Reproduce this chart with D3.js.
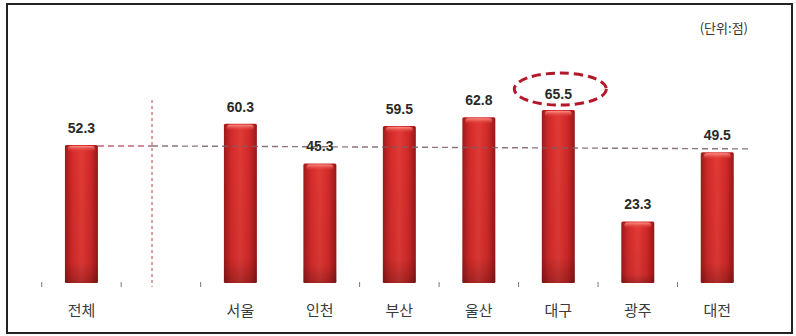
<!DOCTYPE html>
<html>
<head>
<meta charset="utf-8">
<script src="https://cdn.jsdelivr.net/npm/d3@7/dist/d3.min.js"></script>
<style>
  html, body { margin: 0; padding: 0; background: #fff; }
  svg { display: block; }
</style>
</head>
<body>
<svg id="chart" width="796" height="336"></svg>
<script>
// Categories: overall first, then an empty spacer slot, then the seven cities
const categories = ["전체", "", "서울", "인천", "부산", "울산", "대구", "광주", "대전"];
const values     = [52.3, null, 60.3, 45.3, 59.5, 62.8, 65.5, 23.3, 49.5];
const valueLabels = ["52.3", "", "60.3", "45.3", "59.5", "62.8", "65.5", "23.3", "49.5"];
const highlighted = "대구";
const unitLabel = "(단위:점)";
const averageValue = 52.3;

const svg = d3.select("#chart");

const x = d3.scaleBand().domain(d3.range(categories.length)).range([41.7, 757]).paddingInner(0.585).paddingOuter(0.2925);
const y = d3.scaleLinear().domain([0, 100]).range([283, 19]);

// Bar gradient: darker edges, bright red middle
const defs = svg.append("defs");
const g = defs.append("linearGradient").attr("id", "barGrad").attr("x1", "0").attr("x2", "1").attr("y1", "0").attr("y2", "0");
g.append("stop").attr("offset", "0%").attr("stop-color", "#9e1a1a");
g.append("stop").attr("offset", "22%").attr("stop-color", "#d32a2a");
g.append("stop").attr("offset", "50%").attr("stop-color", "#e23a36");
g.append("stop").attr("offset", "78%").attr("stop-color", "#cf2828");
g.append("stop").attr("offset", "100%").attr("stop-color", "#971818");
const gv = defs.append("linearGradient").attr("id", "shade").attr("x1", "0").attr("x2", "0").attr("y1", "0").attr("y2", "1");
gv.append("stop").attr("offset", "0%").attr("stop-color", "#000").attr("stop-opacity", 0);
gv.append("stop").attr("offset", "85%").attr("stop-color", "#000").attr("stop-opacity", 0.05);
gv.append("stop").attr("offset", "100%").attr("stop-color", "#000").attr("stop-opacity", 0.25);
const gt = defs.append("linearGradient").attr("id", "cap").attr("x1", "0").attr("x2", "0").attr("y1", "0").attr("y2", "1");
gt.append("stop").attr("offset", "0%").attr("stop-color", "#ff9a90").attr("stop-opacity", 0.9);
gt.append("stop").attr("offset", "100%").attr("stop-color", "#e33a36").attr("stop-opacity", 0);

// Outer frame
svg.append("rect").attr("x", 7).attr("y", 4).attr("width", 785).attr("height", 329)
  .attr("fill", "none").attr("stroke", "#222").attr("stroke-width", 2);

// Unit label
svg.append("text").attr("x", 748).attr("y", 33).attr("text-anchor", "end")
  .attr("font-family", "'Noto Sans CJK KR', sans-serif").attr("font-size", 13)
  .attr("fill", "#333").text(unitLabel);

const data = categories.map((c, i) => ({ c, i, v: values[i], label: valueLabels[i] }));
const bars = data.filter(d => d.v !== null);

// Vertical dotted separator inside the spacer slot
const sepX = x(1) + x.bandwidth() * 0.23;
svg.append("line").attr("x1", sepX).attr("x2", sepX).attr("y1", 100).attr("y2", 287)
  .attr("stroke", "#c8606a").attr("stroke-width", 1.2).attr("stroke-dasharray", "3,3");

// Bars
const bg = svg.append("g");
bg.selectAll("rect.bar").data(bars).join("rect").attr("class", "bar")
  .attr("x", d => x(d.i)).attr("y", d => y(d.v))
  .attr("width", x.bandwidth()).attr("height", d => y(0) - y(d.v))
  .attr("rx", 1.5).attr("fill", "url(#barGrad)");
bg.selectAll("rect.shade").data(bars).join("rect").attr("class", "shade")
  .attr("x", d => x(d.i)).attr("y", d => y(d.v))
  .attr("width", x.bandwidth()).attr("height", d => y(0) - y(d.v))
  .attr("fill", "url(#shade)");
bg.selectAll("rect.cap").data(bars).join("rect").attr("class", "cap")
  .attr("x", d => x(d.i) + 3).attr("y", d => y(d.v) + 1)
  .attr("width", x.bandwidth() - 6).attr("height", 6).attr("rx", 3)
  .attr("fill", "url(#cap)");

// Average reference line (dashed) across the chart
const avgY = y(averageValue);
svg.append("line").attr("x1", x(0) + x.bandwidth()).attr("x2", sepX)
  .attr("y1", avgY + 1).attr("y2", avgY + 1)
  .attr("stroke", "#d08a95").attr("stroke-width", 2).attr("stroke-dasharray", "6,4");
svg.append("line").attr("x1", sepX).attr("x2", 750)
  .attr("y1", avgY + 1).attr("y2", avgY + 4)
  .attr("stroke", "#7a5f62").attr("stroke-width", 1.4).attr("stroke-dasharray", "6,4").attr("opacity", 0.85);

// Value labels
svg.selectAll("text.val").data(bars).join("text").attr("class", "val")
  .attr("x", d => x(d.i) + x.bandwidth() / 2)
  .attr("y", d => y(d.v) - (d.c === highlighted ? 11 : 12))
  .attr("text-anchor", "middle")
  .attr("font-family", "'Liberation Sans', Arial, sans-serif").attr("font-weight", "bold")
  .attr("font-size", 14).attr("fill", "#2a2a2a").text(d => d.label);

// Highlight ellipse around the maximum
const hi = bars.find(d => d.c === highlighted);
svg.append("ellipse").attr("cx", x(hi.i) + x.bandwidth() / 2 + 2).attr("cy", y(hi.v) - 21)
  .attr("rx", 46).attr("ry", 16)
  .attr("fill", "none").attr("stroke", "#b3182a").attr("stroke-width", 3).attr("stroke-dasharray", "9,5");

// Axis ticks at slot boundaries (no baseline line)
const step = x.step();
const tickIdx = [0, 1, 2, 4, 5, 6, 7, 8];
svg.selectAll("line.tick").data(tickIdx).join("line").attr("class", "tick")
  .attr("x1", d => x(0) - x.paddingOuter() * step + d * step)
  .attr("x2", d => x(0) - x.paddingOuter() * step + d * step)
  .attr("y1", 282).attr("y2", 287).attr("stroke", "#777").attr("stroke-width", 1);

// Category labels
svg.selectAll("text.cat").data(bars).join("text").attr("class", "cat")
  .attr("x", d => x(d.i) + x.bandwidth() / 2).attr("y", 316)
  .attr("text-anchor", "middle")
  .attr("font-family", "'Noto Sans CJK KR', sans-serif").attr("font-size", 15)
  .attr("fill", "#3a3a3a").text(d => d.c);
</script>
</body>
</html>
